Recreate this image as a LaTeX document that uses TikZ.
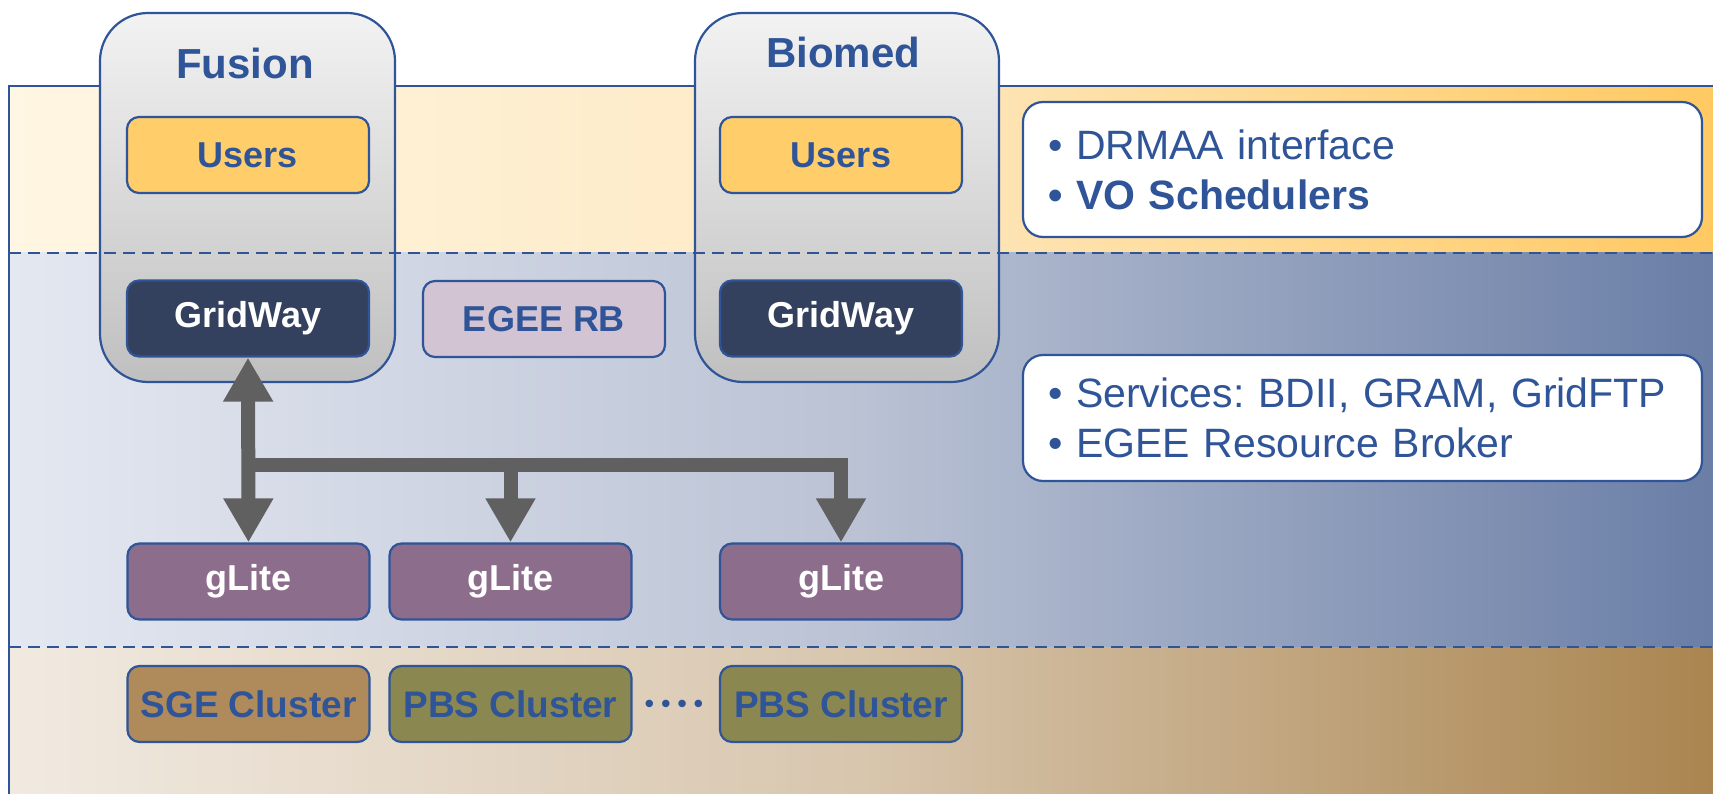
\documentclass[tikz,border=0pt]{standalone}
\usepackage{fontspec}
\setmainfont{Liberation Sans}
\usetikzlibrary{arrows.meta}
\frenchspacing
\definecolor{egee-blue}{RGB}{47,84,152}
\definecolor{users-fill}{RGB}{255,205,105}
\definecolor{gridway-fill}{RGB}{51,65,94}
\definecolor{rb-fill}{RGB}{211,196,212}
\definecolor{glite-fill}{RGB}{140,109,139}
\definecolor{sge-fill}{RGB}{175,138,90}
\definecolor{pbs-fill}{RGB}{138,135,80}
\definecolor{bus-grey}{RGB}{96,96,96}
\tikzset{
    layer-box/.style = {draw=egee-blue, line width=2.2pt, rectangle, rounded corners=12pt, minimum width=242pt, minimum height=76pt, inner sep=2pt, font=\fontsize{36}{40}\selectfont\bfseries, text=egee-blue},
    vo-column/.style = {draw=egee-blue, line width=2.2pt, rectangle, rounded corners=48pt, top color=black!5, bottom color=black!25, minimum height=369pt},
    vo-title/.style = {font=\fontsize{42}{48}\selectfont\bfseries, text=egee-blue, anchor=base},
    info-box/.style = {draw=egee-blue, fill=white, line width=2.2pt, rounded corners=20pt, text width=629pt, inner xsep=25pt, align=left, font=\fontsize{41}{50}\selectfont, text=egee-blue},
    bus-line/.style = {draw=bus-grey, line width=14pt, line join=miter},
    layer-line/.style = {draw=egee-blue, line width=2.5pt, dash pattern=on 12pt off 7pt},
    Bus/.tip = {Triangle[width=47pt, length=44pt]},
}

\begin{document}
\begin{tikzpicture}[x=1pt, y=-1pt]
\useasboundingbox (0,0) rectangle (1713,794);
% layers
\shade[left color={rgb,255:red,255;green,246;blue,227}, right color={rgb,255:red,255;green,201;blue,98}, middle color={rgb,255:red,254;green,233;blue,195}] (9,86) rectangle (1713,253);
\shade[left color={rgb,255:red,228;green,232;blue,241}, right color={rgb,255:red,106;green,126;blue,166}, middle color={rgb,255:red,186;green,194;blue,212}] (9,253) rectangle (1713,647);
\shade[left color={rgb,255:red,241;green,234;blue,225}, right color={rgb,255:red,170;green,133;blue,80}, middle color={rgb,255:red,216;green,198;blue,174}] (9,647) rectangle (1713,794);
\draw[egee-blue, line width=2.2pt] (9,794) -- (9,86) -- (1713,86);

% VOs
\node[vo-column, minimum width=295pt] (fusion) at (247.5,197.5) {};
\node[vo-column, minimum width=304pt] (biomed) at (847,197.5) {};
\node[vo-title] (fusion-title) at (245,79) {Fusion};
\node[vo-title] (biomed-title) at (843,68) {Biomed};

\draw[layer-line] (9,253) -- (1713,253);
\draw[layer-line] (9,647) -- (1713,647);

\node[layer-box, fill=users-fill] (users-a) at (248,155) {Users};
\node[layer-box, fill=users-fill] (users-b) at (841,155) {Users};
\node[layer-box, fill=gridway-fill, text=white] (gw-a) at (248,318.5) {GridWay};
\node[layer-box, fill=gridway-fill, text=white] (gw-b) at (841,318.5) {GridWay};
\node[layer-box, fill=rb-fill] (egee-rb) at (544,319) {EGEE RB};

\node[layer-box, fill=glite-fill, text=white] (glite-a) at (248.5,581.5) {gLite};
\node[layer-box, fill=glite-fill, text=white] (glite-b) at (510.5,581.5) {gLite};
\node[layer-box, fill=glite-fill, text=white] (glite-c) at (841,581.5) {gLite};

\node[layer-box, fill=sge-fill, font=\fontsize{37}{40}\selectfont\bfseries] (sge) at (248.5,704) {SGE Cluster};
\node[layer-box, fill=pbs-fill, font=\fontsize{37}{40}\selectfont\bfseries] (pbs-a) at (510.5,704) {PBS Cluster};
\node[layer-box, fill=pbs-fill, font=\fontsize{37}{40}\selectfont\bfseries] (pbs-b) at (841,704) {PBS Cluster};
\node[text=egee-blue, font=\fontsize{26}{30}\selectfont\bfseries] (dots) at (674,706) {• • • •};

% connections
\coordinate (split) at (248.5,465);
\draw[bus-line, Bus-Bus] (gw-a.south) -- (glite-a.north);
\draw[bus-line, -Bus] (split) -| (glite-c.north);
\draw[bus-line, -Bus] (split -| glite-b.north) -- (glite-b.north);

% notes
\node[info-box, minimum height=135pt] (note-top) at (1362.5,169.5) {\textbullet\ DRMAA interface\\\textbf{\textbullet\ VO Schedulers}};
\node[info-box, minimum height=126pt] (note-mid) at (1362.5,418) {\textbullet\ Services: BDII, GRAM, GridFTP\\\textbullet\ EGEE Resource Broker};
\end{tikzpicture}
\end{document}
